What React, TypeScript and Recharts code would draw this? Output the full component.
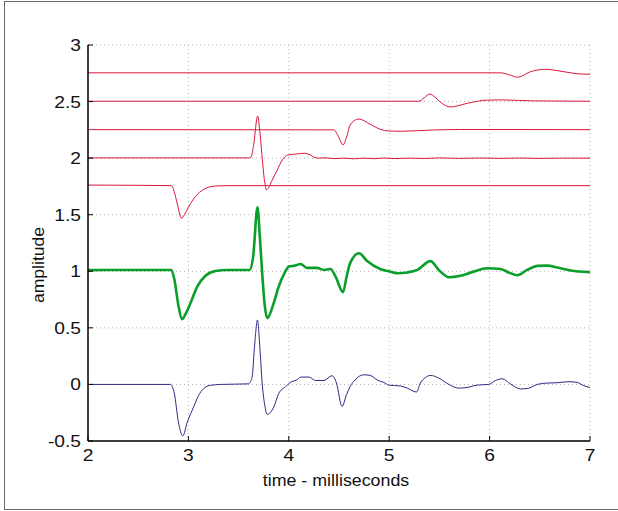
import { LineChart, Line, XAxis, YAxis, CartesianGrid, Label } from "recharts";

// time axis (ms) and amplitude ticks
const xTicks = [2, 3, 4, 5, 6, 7];
const yTicks = [-0.5, 0, 0.5, 1, 1.5, 2, 2.5, 3];

// measured trace (blue)
const blueT = [2.0, 2.5, 2.82, 2.86, 2.9, 2.944, 2.99, 3.054, 3.1, 3.153, 3.22, 3.32, 3.6, 3.615, 3.636, 3.66, 3.688, 3.71, 3.735, 3.76, 3.785, 3.85, 3.9, 3.967, 4.03, 4.08, 4.12, 4.2, 4.266, 4.35, 4.43, 4.475, 4.53, 4.575, 4.61, 4.66, 4.747, 4.81, 4.886, 4.946, 4.996, 5.113, 5.18, 5.272, 5.31, 5.36, 5.41, 5.494, 5.594, 5.693, 5.793, 5.876, 5.99, 6.06, 6.126, 6.21, 6.31, 6.39, 6.474, 6.574, 6.673, 6.79, 6.87, 6.94, 7.0];
const blueV = [0.0, 0.0, 0.0, -0.08, -0.33, -0.455, -0.33, -0.195, -0.1, -0.035, -0.008, 0.0, 0.005, 0.02, 0.075, 0.35, 0.57, 0.35, 0.01, -0.18, -0.265, -0.2, -0.08, -0.02, 0.025, 0.04, 0.065, 0.065, 0.035, 0.035, 0.077, 0.012, -0.195, -0.09, -0.02, 0.04, 0.085, 0.08, 0.036, 0.018, -0.006, -0.014, -0.033, -0.067, 0.012, 0.06, 0.08, 0.056, 0.0, -0.033, -0.024, -0.006, 0.0, 0.035, 0.05, 0.003, -0.04, -0.033, 0.0, 0.012, 0.015, 0.024, 0.018, -0.012, -0.027];

// reconstructed trace (green), offset by 1
const greenT = [2.0, 2.5, 2.83, 2.86, 2.9, 2.938, 2.97, 3.02, 3.088, 3.17, 3.27, 3.386, 3.61, 3.645, 3.688, 3.712, 3.735, 3.76, 3.785, 3.85, 3.9, 3.957, 4.0, 4.06, 4.117, 4.18, 4.28, 4.35, 4.415, 4.465, 4.54, 4.575, 4.61, 4.7, 4.78, 4.91, 4.996, 5.08, 5.18, 5.28, 5.41, 5.494, 5.594, 5.71, 5.84, 5.976, 6.11, 6.19, 6.275, 6.374, 6.48, 6.574, 6.673, 6.806, 7.0];
const greenV = [1.01, 1.012, 1.012, 0.93, 0.7, 0.576, 0.62, 0.717, 0.864, 0.96, 1.003, 1.012, 1.012, 1.13, 1.566, 1.3, 0.983, 0.7, 0.586, 0.72, 0.866, 0.983, 1.042, 1.05, 1.065, 1.03, 1.03, 1.012, 1.02, 0.955, 0.815, 0.95, 1.07, 1.16, 1.09, 1.02, 1.0, 0.983, 0.99, 1.012, 1.09, 1.012, 0.947, 0.96, 0.997, 1.027, 1.02, 0.99, 0.965, 1.012, 1.048, 1.05, 1.033, 1.007, 0.993];

// components (red), stacked at 1.75 .. 2.75
const red1T = [2.0, 2.5, 2.83, 2.86, 2.888, 2.931, 2.96, 3.004, 3.07, 3.153, 3.27, 3.386, 5.0, 6.0, 7.0];
const red1V = [1.762, 1.76, 1.757, 1.7, 1.602, 1.469, 1.5, 1.572, 1.66, 1.725, 1.754, 1.757, 1.757, 1.757, 1.757];

const red2T = [2.0, 3.6, 3.625, 3.65, 3.69, 3.71, 3.735, 3.755, 3.778, 3.835, 3.885, 3.935, 3.99, 4.083, 4.15, 4.216, 4.25, 4.3, 4.35, 4.45, 4.55, 4.65, 4.75, 4.85, 4.95, 5.05, 5.2, 5.35, 5.5, 5.7, 5.9, 6.1, 6.3, 6.5, 6.7, 7.0];
const red2V = [2.002, 2.002, 2.01, 2.12, 2.373, 2.25, 2.0, 1.82, 1.72, 1.807, 1.895, 1.984, 2.028, 2.037, 2.043, 2.028, 2.008, 2.0, 2.003, 1.996, 2.0, 1.994, 2.0, 1.995, 2.001, 1.996, 2.0, 1.997, 2.002, 1.998, 2.001, 1.998, 2.001, 1.998, 2.0, 2.0];

const red3T = [2.0, 4.448, 4.49, 4.54, 4.58, 4.61, 4.697, 4.81, 4.91, 4.996, 5.11, 5.44, 5.71, 7.0];
const red3V = [2.252, 2.25, 2.2, 2.117, 2.2, 2.293, 2.346, 2.3, 2.255, 2.24, 2.237, 2.249, 2.253, 2.252];

const red4T = [2.0, 5.295, 5.35, 5.405, 5.46, 5.51, 5.61, 5.78, 5.976, 6.11, 6.44, 7.0];
const red4V = [2.503, 2.503, 2.535, 2.567, 2.535, 2.495, 2.452, 2.485, 2.513, 2.515, 2.506, 2.503];

const red5T = [2.0, 6.11, 6.2, 6.28, 6.407, 6.557, 6.74, 6.89, 7.0];
const red5V = [2.754, 2.754, 2.735, 2.715, 2.764, 2.785, 2.764, 2.744, 2.741];

const toRows = (t: number[], v: number[]) => t.map((x, i) => ({ t: x, v: v[i] }));

const FONT = "'Liberation Sans', Arial, Helvetica, sans-serif";
const RED = "#dc143c";

// the original's text is rendered a bit wide, so stretch it along the baseline
const XTick = ({ x, y, payload }: any) => (
  <g>
    <line x1={x} x2={x} y1={y} y2={y - 5} stroke="#000" strokeWidth={1} />
    <g transform={`translate(${x},${y + 20}) scale(1.2,1)`}>
      <text x={0} y={0} textAnchor="middle" fontSize={16} fontFamily={FONT} fill="#111">
        {payload.value}
      </text>
    </g>
  </g>
);

const YTick = ({ x, y, payload }: any) => (
  <g>
    <line x1={x} x2={x + 5} y1={y} y2={y} stroke="#000" strokeWidth={1} />
    <g transform={`translate(${x - 7},${y + 6}) scale(1.2,1)`}>
      <text x={0} y={0} textAnchor="end" fontSize={16} fontFamily={FONT} fill="#111">
        {payload.value}
      </text>
    </g>
  </g>
);

const redSeries = [
  toRows(red1T, red1V),
  toRows(red2T, red2V),
  toRows(red3T, red3V),
  toRows(red4T, red4V),
  toRows(red5T, red5V),
];

export default function App() {
  return (
    <div style={{ position: "absolute", left: 0, top: 0, width: 618, height: 511, background: "#fff", overflow: "hidden" }}>
      <div
        style={{
          position: "absolute",
          left: 4,
          top: 1,
          width: 640,
          height: 509,
          boxSizing: "border-box",
          border: "1.5px solid #6a6a6a",
        }}
      />
      <LineChart
        width={618}
        height={511}
        margin={{ top: 45, right: 28, bottom: 40, left: 28 }}
        style={{ position: "absolute", left: 0, top: 0 }}
      >
        <CartesianGrid stroke="#b4b4b4" strokeDasharray="1 3" />
        <XAxis
          dataKey="t"
          type="number"
          domain={[2, 7]}
          ticks={xTicks}
          interval={0}
          allowDataOverflow
          height={30}
          tickSize={0}
          tickMargin={0}
          tickLine={false}
          axisLine={{ stroke: "#000", strokeWidth: 1.5 }}
          tick={XTick}
        >
          <Label
            content={() => (
              <g transform="translate(336,486) scale(1.08,1)">
                <text x={0} y={0} textAnchor="middle" fontSize={16.5} fontFamily={FONT} fill="#111">
                  time - milliseconds
                </text>
              </g>
            )}
          />
        </XAxis>
        <YAxis
          dataKey="v"
          type="number"
          domain={[-0.5, 3]}
          ticks={yTicks}
          interval={0}
          allowDataOverflow
          width={60}
          tickSize={0}
          tickMargin={0}
          tickLine={false}
          axisLine={{ stroke: "#000", strokeWidth: 1.5 }}
          tick={YTick}
        >
          <Label
            content={() => (
              <g transform="translate(43.5,265) rotate(-90) scale(1.1,1)">
                <text x={0} y={0} textAnchor="middle" fontSize={16} fontFamily={FONT} fill="#111">
                  amplitude
                </text>
              </g>
            )}
          />
        </YAxis>
        {redSeries.map((rows, i) => (
          <Line
            key={`red${i}`}
            data={rows}
            dataKey="v"
            type="monotone"
            stroke={RED}
            strokeWidth={1}
            dot={false}
            activeDot={false}
            isAnimationActive={false}
          />
        ))}
        <Line
          data={toRows(greenT, greenV)}
          dataKey="v"
          type="monotone"
          stroke="#0a9e2a"
          strokeWidth={2.6}
          dot={false}
          activeDot={false}
          isAnimationActive={false}
        />
        <Line
          data={toRows(blueT, blueV)}
          dataKey="v"
          type="monotone"
          stroke="#2c2a85"
          strokeWidth={1}
          dot={false}
          activeDot={false}
          isAnimationActive={false}
        />
      </LineChart>
    </div>
  );
}
